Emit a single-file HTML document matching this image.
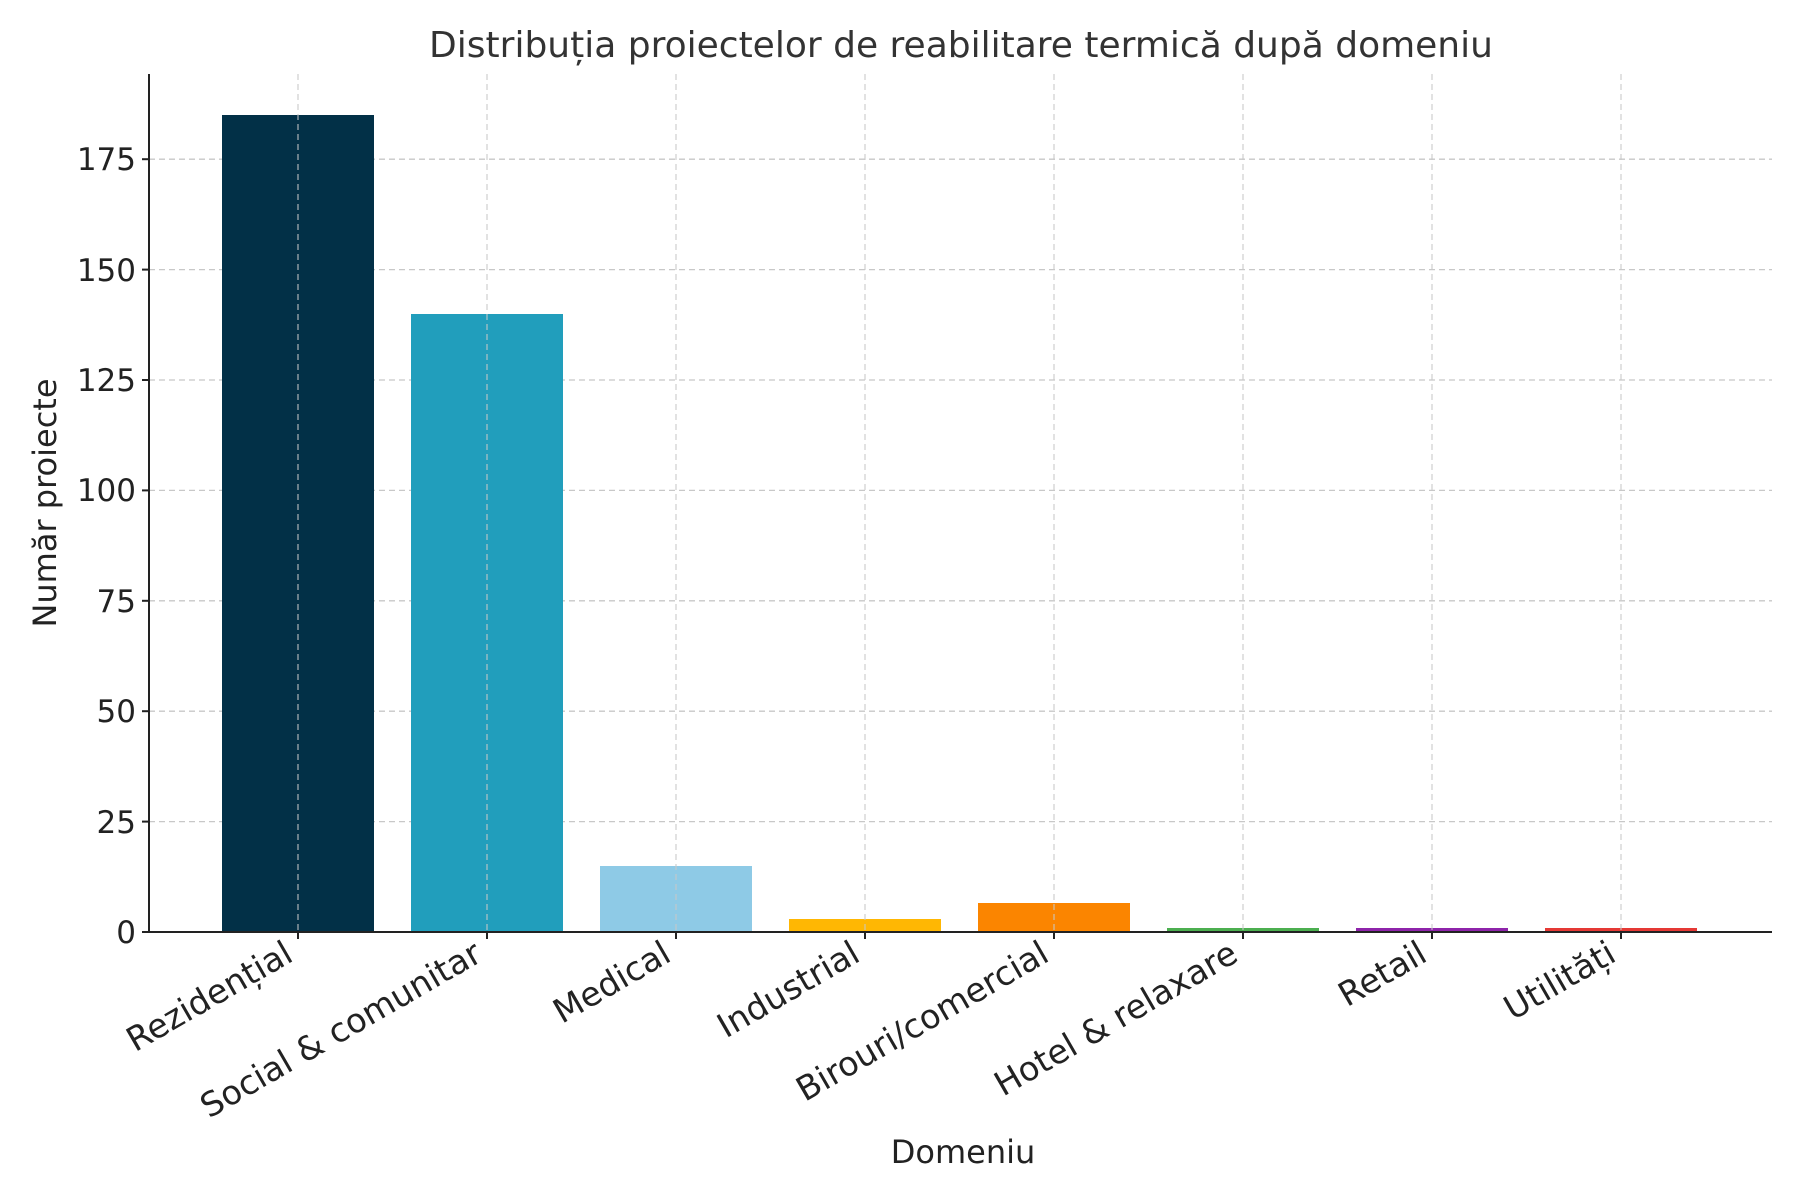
<!DOCTYPE html>
<html><head><meta charset="utf-8"><style>
html,body{margin:0;padding:0;background:#fff;}
svg{display:block;font-family:"DejaVu Sans","Liberation Sans",sans-serif;}
</style></head><body>
<svg width="1800" height="1200" viewBox="0 0 1800 1200" xmlns="http://www.w3.org/2000/svg">
<rect width="1800" height="1200" fill="#fff"/>
<g fill="none" stroke="#c8c8c8" stroke-width="1.3" stroke-dasharray="6,4">
<line x1="149" x2="1772" y1="821.6" y2="821.6"/>
<line x1="149" x2="1772" y1="711.2" y2="711.2"/>
<line x1="149" x2="1772" y1="600.8" y2="600.8"/>
<line x1="149" x2="1772" y1="490.4" y2="490.4"/>
<line x1="149" x2="1772" y1="380" y2="380"/>
<line x1="149" x2="1772" y1="269.6" y2="269.6"/>
<line x1="149" x2="1772" y1="159.2" y2="159.2"/>
</g>
<g>
<rect x="222" y="115" width="152" height="817" fill="#023047"/>
<rect x="411" y="314" width="152" height="618" fill="#219ebc"/>
<rect x="600" y="866" width="152" height="66" fill="#8ecae6"/>
<rect x="789" y="919" width="152" height="13" fill="#ffb703"/>
<rect x="978" y="903" width="152" height="29" fill="#fb8500"/>
<rect x="1167" y="928" width="152" height="4" fill="#4caf50"/>
<rect x="1356" y="928" width="152" height="4" fill="#8e24aa"/>
<rect x="1545" y="928" width="152" height="4" fill="#e53935"/>
</g>
<g fill="none" stroke="#c8c8c8" stroke-width="1.3" stroke-dasharray="6,4" opacity="0.8">
<line x1="298" x2="298" y1="74" y2="932"/>
<line x1="487" x2="487" y1="74" y2="932"/>
<line x1="676" x2="676" y1="74" y2="932"/>
<line x1="865" x2="865" y1="74" y2="932"/>
<line x1="1054" x2="1054" y1="74" y2="932"/>
<line x1="1243" x2="1243" y1="74" y2="932"/>
<line x1="1432" x2="1432" y1="74" y2="932"/>
<line x1="1621" x2="1621" y1="74" y2="932"/>
</g>
<g stroke="#222" stroke-width="2">
<line x1="149" x2="149" y1="74" y2="933"/>
<line x1="148" x2="1772" y1="932" y2="932"/>
<line x1="149" x2="142" y1="932" y2="932"/>
<line x1="149" x2="142" y1="821.6" y2="821.6"/>
<line x1="149" x2="142" y1="711.2" y2="711.2"/>
<line x1="149" x2="142" y1="600.8" y2="600.8"/>
<line x1="149" x2="142" y1="490.4" y2="490.4"/>
<line x1="149" x2="142" y1="380" y2="380"/>
<line x1="149" x2="142" y1="269.6" y2="269.6"/>
<line x1="149" x2="142" y1="159.2" y2="159.2"/>
<line x1="298" x2="298" y1="932" y2="939"/><line x1="487" x2="487" y1="932" y2="939"/>
<line x1="676" x2="676" y1="932" y2="939"/><line x1="865" x2="865" y1="932" y2="939"/>
<line x1="1054" x2="1054" y1="932" y2="939"/><line x1="1243" x2="1243" y1="932" y2="939"/>
<line x1="1432" x2="1432" y1="932" y2="939"/><line x1="1621" x2="1621" y1="932" y2="939"/>
</g>
<g fill="#222" font-size="31" text-anchor="end">
<text x="136" y="943">0</text>
<text x="136" y="833">25</text>
<text x="136" y="722">50</text>
<text x="136" y="612">75</text>
<text x="136" y="501">100</text>
<text x="136" y="391">125</text>
<text x="136" y="281">150</text>
<text x="136" y="170">175</text>
</g>
<g fill="#222" font-size="33.5" text-anchor="end">
<text transform="translate(295,960) rotate(-30)">Rezidențial</text>
<text transform="translate(484,960) rotate(-30)">Social &amp; comunitar</text>
<text transform="translate(673,960) rotate(-30)">Medical</text>
<text transform="translate(862,960) rotate(-30)">Industrial</text>
<text transform="translate(1051,960) rotate(-30)">Birouri/comercial</text>
<text transform="translate(1240,960) rotate(-30)">Hotel &amp; relaxare</text>
<text transform="translate(1429,960) rotate(-30)">Retail</text>
<text transform="translate(1618,960) rotate(-30)">Utilități</text>
</g>
<text x="963" y="1163" font-size="32" fill="#222" text-anchor="middle">Domeniu</text>
<text transform="translate(56,503) rotate(-90)" font-size="32" fill="#222" text-anchor="middle">Număr proiecte</text>
<text x="961" y="57" font-size="36" fill="#333" text-anchor="middle">Distribuția proiectelor de reabilitare termică după domeniu</text>
</svg>
</body></html>
